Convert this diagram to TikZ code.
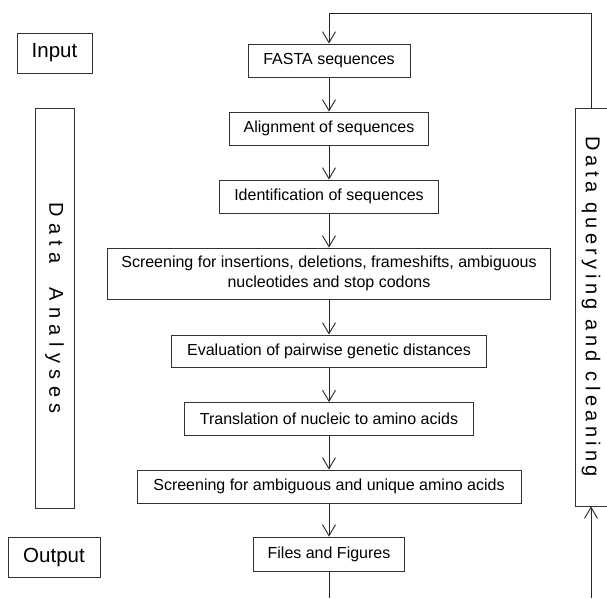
\documentclass[tikz,border=0pt]{standalone}
\usepackage{fontspec}
\setmainfont{Liberation Sans}
\newfontfamily\widefont[LetterSpace=32]{Liberation Sans}
\newfontfamily\trackfont[LetterSpace=22]{Liberation Sans}
\usetikzlibrary{arrows.meta}
\tikzset{
  wire/.style={line width=0.9pt, draw=black!85},
  arr/.style={wire, -{Straight Barb[length=11pt,width=13pt,line width=0.9pt]}},
  stepbox/.style={draw=black!80, line width=0.9pt, fill=white, inner sep=0pt,
    minimum height=33pt, font=\fontsize{16}{19.5}\selectfont, align=center},
  tagbox/.style={draw=black!80, line width=0.9pt, inner sep=0pt,
    minimum height=40pt, font=\fontsize{20.5}{24}\selectfont},
  sidebox/.style={draw=black!80, line width=0.9pt, inner sep=0pt, rotate=-90}
}
\begin{document}
\begin{tikzpicture}[x=1pt,y=1pt]
  \useasboundingbox (0,0) rectangle (607,598);
  % labels on the left
  \node[tagbox, minimum width=75pt] (input) at (54.5,545) {Input};
  \node[tagbox, minimum width=92pt] (output) at (54,41) {Output};
  \node[sidebox, minimum width=400pt, minimum height=39pt, font=\widefont\fontsize{20}{24}\selectfont]
    (analyses) at (54.5,290) {Data~~Analyses};
  % main chain
  \node[stepbox, minimum width=162pt] (fasta) at (329,537.5) {FASTA sequences};
  \node[stepbox, minimum width=199pt] (align) at (329,469.5) {Alignment of sequences};
  \node[stepbox, minimum width=219pt] (ident) at (329,401.5) {Identification of sequences};
  \node[stepbox, minimum width=443pt, minimum height=51pt] (screenindel) at (329,324.5)
    {Screening for insertions, deletions, frameshifts, ambiguous\\nucleotides and stop codons};
  \node[stepbox, minimum width=315pt, minimum height=32pt] (distance) at (329,247) {Evaluation of pairwise genetic distances};
  \node[stepbox, minimum width=289pt] (translate) at (329,179) {Translation of nucleic to amino acids};
  \node[stepbox, minimum width=384pt] (screenamino) at (329,111.5) {Screening for ambiguous and unique amino acids};
  \node[stepbox, minimum width=151pt, minimum height=34pt] (files) at (329,44) {Files and Figures};
  % feedback box on the right
  \node[sidebox, minimum width=398pt, minimum height=32pt, font=\trackfont\fontsize{20}{24}\selectfont]
    (querying) at (591,291) {Data querying and cleaning};
  \foreach \a/\b in {fasta/align, align/ident, ident/screenindel, screenindel/distance,
                     distance/translate, translate/screenamino, screenamino/files}{
    \draw[arr] (\a) -- (\b);
  }
  \coordinate (loopout) at (329,0);
  \coordinate (loopin) at (591,0);
  \coordinate (topright) at (591,585);
  \coordinate (topleft) at (329,585);
  \draw[wire] (files) -- (loopout);
  \draw[arr] (loopin) -- (querying.east);
  \draw[arr] (querying.west) -- (topright) -- (topleft) -- (fasta);
\end{tikzpicture}
\end{document}
